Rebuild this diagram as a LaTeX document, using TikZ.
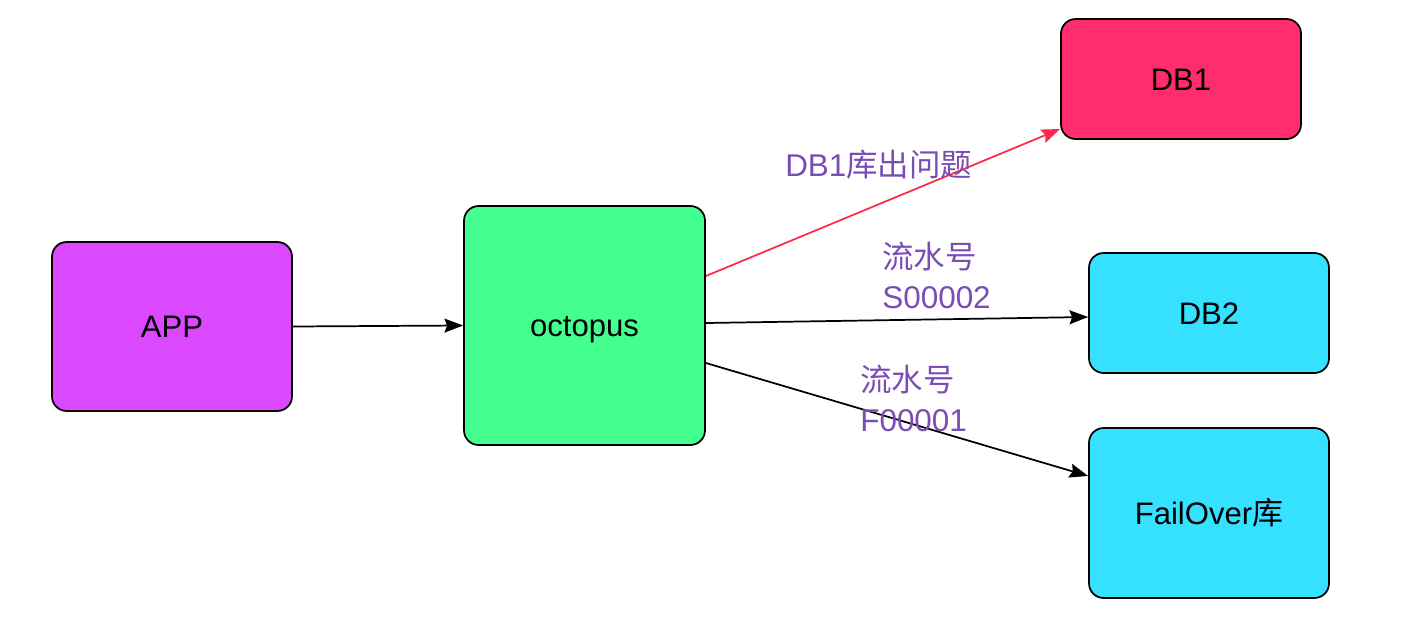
\documentclass[tikz,border=0pt]{standalone}
\usepackage{fontspec}
\setmainfont{Liberation Sans}
\newfontfamily\cjk{Noto Sans CJK SC}
\usetikzlibrary{arrows.meta}
\definecolor{appc}{HTML}{DA48FF}
\definecolor{octc}{HTML}{44FF8F}
\definecolor{dbred}{HTML}{FF2D6E}
\definecolor{dbcyan}{HTML}{36E0FF}
\definecolor{lblc}{HTML}{7A4DB5}
\definecolor{redline}{HTML}{FF2848}
\tikzset{
  box/.style={draw=black, line width=1.3pt, rounded corners=11pt, inner sep=0pt,
    font=\fontsize{23.3pt}{27pt}\selectfont, text height=17pt, text depth=0pt},
  conn/.style={line width=1.3pt, -{Stealth[length=14pt,width=10.5pt,inset=2pt]}},
  lbl/.style={text=lblc, align=left, inner sep=0pt, font=\fontsize{23.6pt}{30pt}\selectfont}
}
\begin{document}
\begin{tikzpicture}[x=0.75pt,y=-0.75pt]
\useasboundingbox (0,0) rectangle (1402,632);
\node[box, fill=appc, minimum width=240*0.75pt, minimum height=169*0.75pt] (app) at (172,326.5) {APP};
\node[box, fill=octc, minimum width=241*0.75pt, minimum height=239*0.75pt] (oct) at (584.5,325.5) {octopus};
\node[box, fill=dbred, minimum width=240*0.75pt, minimum height=120*0.75pt] (db1) at (1181,79) {DB1};
\node[box, fill=dbcyan, minimum width=240*0.75pt, minimum height=120*0.75pt] (db2) at (1209,313) {DB2};
\node[box, fill=dbcyan, minimum width=240*0.75pt, minimum height=170*0.75pt] (fo) at (1209,513) {FailOver{\cjk 库}};

\draw[conn] (app.east) -- (oct.west);
\draw[conn, draw=redline, fill=redline] (oct.east |- 0,276) -- (db1.west |- 0,129);
\draw[conn] (oct.east |- 0,323) -- (db2.west |- 0,317);
\draw[conn] (oct.east |- 0,363) -- (fo.west |- 0,476);

\node[lbl, anchor=west] (l1) at (785,165) {DB1{\cjk 库出问题}};
\node[lbl, anchor=west] (l2) at (882,275) {{\cjk 流水号}\\S00002};
\node[lbl, anchor=west] (l3) at (860,398) {{\cjk 流水号}\\F00001};
\end{tikzpicture}
\end{document}
